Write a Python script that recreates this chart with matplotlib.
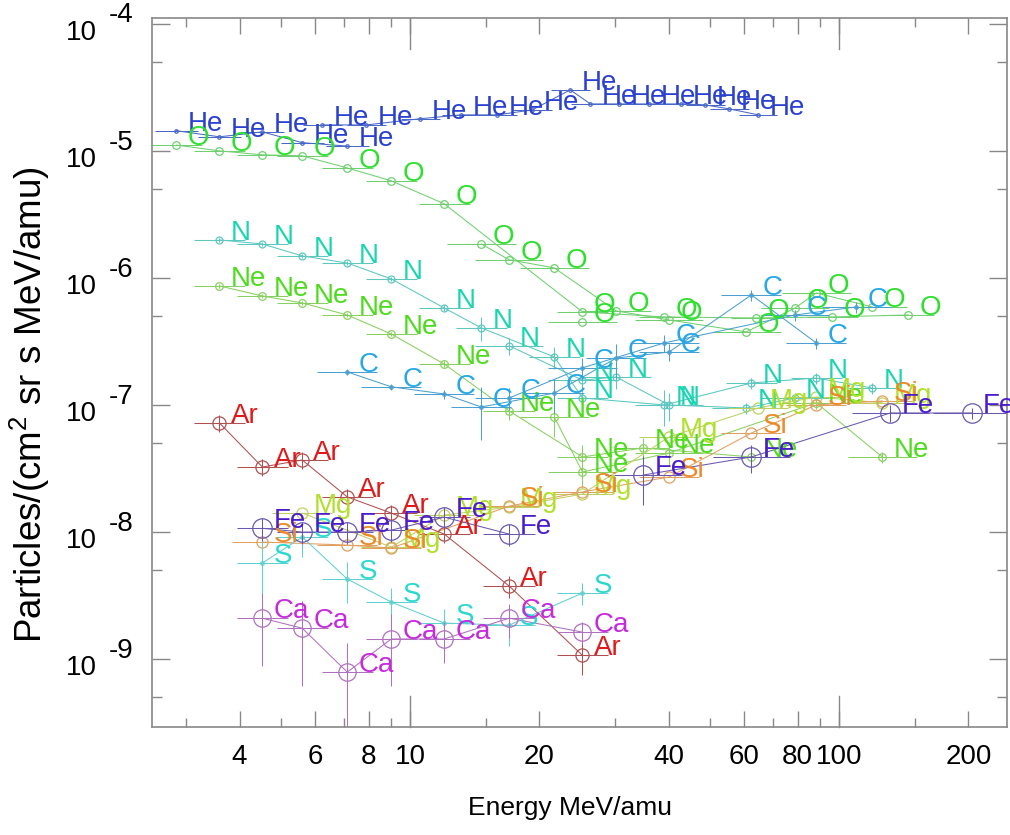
import numpy as np
import matplotlib.pyplot as plt
from matplotlib.transforms import blended_transform_factory

plt.rcParams['font.family'] = ['Liberation Sans', 'DejaVu Sans']
plt.rcParams['mathtext.fontset'] = 'custom'
plt.rcParams['mathtext.rm'] = 'Liberation Sans'

# energies (MeV/amu), fluxes, relative flux errors, half bin width (log10)
he1_e = [2.85, 3.59, 4.52, 5.60, 7.13]
he1_f = [1.44e-5, 1.29e-5, 1.41e-5, 1.16e-5, 1.09e-5]
he2_e = [6.24, 7.90, 10.55, 13.15, 15.95, 19.25, 23.6, 26.3, 30.7, 36.1, 42.8, 48.7, 55.4, 64.7]
he2_f = [1.60e-5, 1.60e-5, 1.79e-5, 1.92e-5, 1.92e-5, 2.10e-5, 3.02e-5, 2.34e-5, 2.34e-5,
         2.34e-5, 2.34e-5, 2.30e-5, 2.14e-5, 1.92e-5]

o1_e = [2.85, 3.59, 4.52, 5.60, 7.13, 9.03, 12.0, 25.2, 39.1, 64.1, 96.3, 145]
o1_f = [1.11e-5, 1.0e-5, 9.31e-6, 9.14e-6, 7.34e-6, 5.81e-6, 3.83e-6, 5.40e-7, 4.93e-7,
        4.84e-7, 4.93e-7, 5.11e-7]
o2_e = [14.64, 17.0, 21.66, 30.2, 40.1, 60.7, 78.9, 88.4, 119.4]
o2_f = [1.85e-6, 1.39e-6, 1.20e-6, 5.50e-7, 4.67e-7, 3.76e-7, 5.80e-7, 7.62e-7, 5.91e-7]
o3_e = [25.2]
o3_f = [4.50e-7]

n1_e = [3.59, 4.52, 5.60, 7.13, 9.03, 12.0, 14.64, 21.66, 25.2, 39.1, 62.4, 88.4, 119.4]
n1_f = [1.99e-6, 1.85e-6, 1.49e-6, 1.31e-6, 9.82e-7, 5.80e-7, 4.04e-7, 2.39e-7, 1.135e-7,
        1.0e-7, 1.49e-7, 1.63e-7, 1.36e-7]
n1_err = [0.03, 0.03, 0.03, 0.03, 0.04, 0.06, 0.21, 0.2, 0.12, 0.32, 0.1, 0.1, 0.1]
n2_e = [17.0, 25.2, 30.2, 40.1, 60.7, 78.9]
n2_f = [2.92e-7, 1.57e-7, 1.66e-7, 1.0e-7, 9.47e-8, 1.135e-7]
n2_err = [0.15, 0.2, 0.2, 0.25, 0.1, 0.1]

ne1_e = [3.59, 4.52, 5.60, 7.13, 9.03, 12.0, 17.0, 25.2, 34.9, 62.4]
ne1_f = [8.65e-7, 7.21e-7, 6.35e-7, 5.11e-7, 3.62e-7, 2.10e-7, 8.97e-8, 3.90e-8, 4.59e-8, 3.90e-8]
ne1_err = [0.03, 0.03, 0.03, 0.03, 0.04, 0.06, 0.15, 0.25, 0.2, 0.15]
ne2_e = [21.66, 25.2, 40.1, 88.4, 126]
ne2_f = [8.05e-8, 2.97e-8, 4.19e-8, 1.04e-7, 3.90e-8]
ne2_err = [0.3, 0.25, 0.2, 0.1, 0.1]

c1_e = [7.13, 9.03, 12.0, 14.64, 21.66, 30.2, 40.1, 62.4, 88.4]
c1_f = [1.82e-7, 1.39e-7, 1.22e-7, 9.64e-8, 1.24e-7, 2.34e-7, 2.61e-7, 7.35e-7, 3.08e-7]
c1_err = [0.05, 0.05, 0.08, 0.45, 0.3, 0.3, 0.15, 0.1, 0.1]
c2_e = [17.0, 25.2, 39.1, 78.9, 109.6]
c2_f = [1.135e-7, 1.96e-7, 3.08e-7, 5.11e-7, 5.91e-7]
c2_err = [0.2, 0.2, 0.15, 0.1, 0.1]

ar_e = [3.59, 4.52, 5.60, 7.13, 9.03, 12.0, 17.0, 25.2]
ar_f = [7.22e-8, 3.25e-8, 3.69e-8, 1.89e-8, 1.41e-8, 9.64e-9, 3.76e-9, 1.07e-9]
ar_err = [0.15, 0.15, 0.15, 0.15, 0.15, 0.15, 0.2, 0.3]

fe1_e = [4.52, 5.60, 7.13, 9.03, 12.0, 17.0]
fe1_f = [1.07e-8, 1.0e-8, 1.0e-8, 1.035e-8, 1.31e-8, 9.64e-9]
fe1_err = [0.2, 0.2, 0.2, 0.2, 0.2, 0.2]
fe2_e = [34.9, 62.4, 131.5, 204]
fe2_f = [2.81e-8, 3.90e-8, 8.65e-8, 8.65e-8]
fe2_err = [0.42, 0.25, 0.15, 0.1]

ca_e = [4.52, 5.60, 7.13, 9.03, 12.0, 17.0, 25.2]
ca_f = [2.10e-9, 1.75e-9, 7.90e-10, 1.44e-9, 1.44e-9, 2.10e-9, 1.63e-9]
ca_err = [0.58, 0.65, 0.7, 0.57, 0.35, 0.3, 0.2]

s_e = [4.52, 5.60, 7.13, 9.03, 12.0, 17.0, 25.2]
s_f = [5.70e-9, 9.14e-9, 4.27e-9, 2.81e-9, 1.92e-9, 1.85e-9, 3.31e-9]
s_err = [0.55, 0.3, 0.35, 0.3, 0.3, 0.32, 0.2]

si_e = [4.52, 7.13, 9.03, 17.0, 25.2, 40.1, 62.4, 88.4, 126]
si_f = [8.34e-9, 7.90e-9, 7.48e-9, 1.60e-8, 2.07e-8, 2.71e-8, 6.02e-8, 1.0e-7, 1.075e-7]
mg_e = [5.60, 9.03, 12.0, 17.0, 25.2, 40.1, 64.7, 88.4, 126]
mg_f = [1.41e-8, 7.62e-9, 1.36e-8, 1.57e-8, 1.99e-8, 5.60e-8, 9.47e-8, 1.156e-7, 1.04e-7]

series = [
    ('He', he1_e, he1_f, None, 0.05),
    ('He', he2_e, he2_f, None, 0.045),
    ('O', o1_e, o1_f, None, 0.06),
    ('O', o2_e, o2_f, None, 0.08),
    ('O', o3_e, o3_f, None, 0.08),
    ('N', n1_e, n1_f, n1_err, 0.06),
    ('N', n2_e, n2_f, n2_err, 0.08),
    ('Ne', ne1_e, ne1_f, ne1_err, 0.06),
    ('Ne', ne2_e, ne2_f, ne2_err, 0.08),
    ('C', c1_e, c1_f, c1_err, 0.07),
    ('C', c2_e, c2_f, c2_err, 0.08),
    ('Mg', mg_e, mg_f, None, 0.07),
    ('Si', si_e, si_f, None, 0.07),
    ('S', s_e, s_f, s_err, 0.06),
    ('Ar', ar_e, ar_f, ar_err, 0.06),
    ('Ca', ca_e, ca_f, ca_err, 0.06),
    ('Fe', fe1_e, fe1_f, fe1_err, 0.06),
    ('Fe', fe2_e, fe2_f, fe2_err, 0.09),
]

text_col = {'He': '#2a40d0', 'O': '#2ee02e', 'N': '#1ad6b0', 'Ne': '#4ddc1c', 'C': '#27a8e6',
            'Ar': '#e01a1a', 'Fe': '#4a1ccc', 'Mg': '#b0e02a', 'Si': '#ec8a2a', 'S': '#2ad8d0',
            'Ca': '#c62adc'}
line_col = {'He': '#4a68c8', 'O': '#70d070', 'N': '#5cc8c0', 'Ne': '#88d060', 'C': '#4aa0d0',
            'Ar': '#b05050', 'Fe': '#6a58b0', 'Mg': '#c0d060', 'Si': '#e0a060', 'S': '#60d0d0',
            'Ca': '#b070c0'}
msize = {'He': 2.5, 'O': 5.5, 'N': 5, 'Ne': 5.5, 'C': 2.5, 'Mg': 8, 'Si': 8, 'S': 2.5,
         'Ar': 9.5, 'Ca': 12.5, 'Fe': 14}

fig = plt.figure(figsize=(10.1, 8.35), dpi=100)
ax = fig.add_axes([0.1505, 0.1293, 0.8465, 0.8491])
ax.set_xscale('log')
ax.set_yscale('log')

for name, e, f, err, dlog in series:
    e = np.array(e)
    f = np.array(f)
    lc = line_col[name]
    xlo = e - e * 10 ** (-dlog)
    xhi = e * 10 ** dlog - e
    if err is not None:
        r = np.array(err)
        yerr = [f * np.minimum(r, 0.97), f * r]
    else:
        yerr = None
    ax.errorbar(e, f, xerr=[xlo, xhi], yerr=yerr, fmt='none', ecolor=lc, elinewidth=0.75, capsize=0)
    ax.plot(e, f, '-', color=lc, lw=0.75, marker='o', ms=msize[name], mfc='none', mec=lc, mew=0.9)
    for x, y in zip(e, f):
        ax.annotate(name, (x, y), xytext=(8, 0), textcoords='offset points',
                    color=text_col[name], fontsize=20, ha='left', va='baseline')

ax.set_xlim(2.5, 246)
ax.set_ylim(2.92e-10, 1.11e-4)

for sp in ax.spines.values():
    sp.set_color('#888888')
    sp.set_linewidth(1.2)

xmaj = [4, 6, 8, 10, 20, 40, 60, 80, 100, 200]
xmin = [3, 5, 7, 9, 15, 30, 50, 70, 90, 150]
ax.set_xticks(xmaj)
ax.set_xticklabels([str(v) for v in xmaj])
ax.set_xticks(xmin, minor=True)
ax.set_xticklabels([], minor=True)
ax.set_yticks([10.0 ** k for k in range(-9, -3)])
ax.set_yticklabels([])
ax.set_yticks([5 * 10.0 ** k for k in range(-10, -4)], minor=True)
ax.set_yticklabels([], minor=True)
ax.tick_params(axis='x', which='major', direction='in', length=11.5, width=1, color='#888888',
               top=True, labelsize=20, pad=12)
ax.tick_params(axis='x', which='minor', direction='in', length=6.5, width=1, color='#888888', top=True)
ax.tick_params(axis='y', which='major', direction='in', length=13, width=1, color='#888888', right=True)
ax.tick_params(axis='y', which='minor', direction='in', length=7.5, width=1, color='#888888', right=True)

# long ticks at the decades on the energy axis
bt = blended_transform_factory(ax.transData, ax.transAxes)
for v in [10, 100]:
    ax.plot([v, v], [0, 0.044], color='#888888', lw=1, transform=bt, clip_on=False)
    ax.plot([v, v], [1 - 0.044, 1], color='#888888', lw=1, transform=bt, clip_on=False)

# decade labels on the flux axis
yt = blended_transform_factory(ax.transAxes, ax.transData)
for k in range(-9, -3):
    ax.annotate('10', (0, 10.0 ** k), xycoords=yt, xytext=(-40, -6.5), textcoords='offset points',
                ha='right', va='center', fontsize=20, annotation_clip=False)
    ax.annotate(str(k), (0, 10.0 ** k), xycoords=yt, xytext=(-31, 6), textcoords='offset points',
                ha='left', va='center', fontsize=20, annotation_clip=False)

fig.text(0.029, 0.515, r'Particles/(cm$^2$ sr s MeV/amu)', rotation=90, ha='center', va='center',
         fontsize=26.5)
fig.text(0.564, 0.032, 'Energy MeV/amu', ha='center', va='center', fontsize=19)

fig.savefig('out.png', dpi=100)
